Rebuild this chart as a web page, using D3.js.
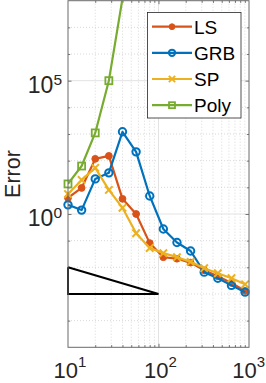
<!DOCTYPE html>
<html><head><meta charset="utf-8">
<script src="https://cdn.jsdelivr.net/npm/d3@7"></script>
<style>body{margin:0;background:#fff}svg{display:block;font-family:"Liberation Sans",Arial,Helvetica,sans-serif}</style>
</head><body><svg id="c" width="266" height="383"></svg>
<script>
// ---- data ----
const nValues   = [10, 14.14, 20, 28.28, 40, 56.57, 80, 113.1, 160, 226.3, 320, 452.5, 640, 905.1];
const lsValues  = [4.0, 9.5, 117, 151, 3.7, 1.0, 0.081, 0.024, 0.021, 0.015, 0.0077, 0.0046, 0.0026, 0.0013];
const grbValues = [2.2, 1.4, 20.7, 35, 1210, 214, 4.75, 0.273, 0.085, 0.041, 0.0066, 0.0039, 0.0021, 0.00117];
const spValues  = [5.6, 19, 54, 8, 1.7, 0.19, 0.053, 0.034, 0.024, 0.016, 0.0093, 0.006, 0.0039, 0.0023];
const polyValues = [13.4, 63, 1100, 1e5, 1.2e8];
const seriesNames = ["LS", "GRB", "SP", "Poly"];
const xTickValues = [10, 100, 1000];
const xTickExps = ["1", "2", "3"];
const yTickValues = [1, 1e5];
const yTickExps = ["0", "5"];
const yLabel = "Error";
const triangleX = [10, 10, 100, 10];
const triangleY = [1e-2, 1e-3, 1e-3, 1e-2];

// ---- layout / style ----
const colors = ["#D95319", "#0072BD", "#EDB120", "#77AC30"];
const markers = ["dot", "circle", "x", "square"];
const L = 68, R = 249, T = 0.7, B = 347.3;
const W = 266;
const svg = d3.select("#c");
const x = d3.scaleLog().domain([10, 1000]).range([L, R]);
const y = d3.scaleLog().domain([1e-5, 1e8]).range([B, T]);

svg.append("rect").attr("width", 266).attr("height", 383).attr("fill", "#fff");

// grid
const xMinor = [], xMajor = [100];
for (const d of [10, 100]) for (let k = 2; k <= 9; k++) xMinor.push(d * k);
const yMinor = [], yMajor = [1, 1e5];
for (let e = -4; e <= 7; e++) if (e !== 0 && e !== 5) yMinor.push(Math.pow(10, e));
const grid = svg.append("g");
grid.selectAll(".xm").data(xMinor).enter().append("line")
  .attr("x1", d => x(d)).attr("x2", d => x(d)).attr("y1", T).attr("y2", B)
  .attr("stroke", "#cfcfcf").attr("stroke-width", 0.8).attr("stroke-dasharray", "1,2");
grid.selectAll(".ym").data(yMinor).enter().append("line")
  .attr("y1", d => y(d)).attr("y2", d => y(d)).attr("x1", L).attr("x2", R)
  .attr("stroke", "#cfcfcf").attr("stroke-width", 0.8).attr("stroke-dasharray", "1,2");
grid.selectAll(".xM").data(xMajor).enter().append("line")
  .attr("x1", d => x(d)).attr("x2", d => x(d)).attr("y1", T).attr("y2", B)
  .attr("stroke", "#e3e3e3").attr("stroke-width", 1);
grid.selectAll(".yM").data(yMajor).enter().append("line")
  .attr("y1", d => y(d)).attr("y2", d => y(d)).attr("x1", L).attr("x2", R)
  .attr("stroke", "#e3e3e3").attr("stroke-width", 1);

// axes ticks (inside)
function tickAxis(axisGen, tr, vals, size) {
  const g = svg.append("g").attr("transform", tr)
    .call(axisGen.tickValues(vals).tickSize(size).tickFormat(""));
  g.select(".domain").remove();
  g.selectAll(".tick line").attr("stroke", "#555").attr("stroke-width", 0.8);
}
tickAxis(d3.axisLeft(y), `translate(${L},0)`, yMajor, -3.5);
tickAxis(d3.axisLeft(y), `translate(${L},0)`, yMinor, -2.2);
tickAxis(d3.axisRight(y), `translate(${R},0)`, yMajor, -3.5);
tickAxis(d3.axisRight(y), `translate(${R},0)`, yMinor, -2.2);
tickAxis(d3.axisBottom(x), `translate(0,${B})`, xMajor, -3.5);
tickAxis(d3.axisBottom(x), `translate(0,${B})`, xMinor, -2.2);
tickAxis(d3.axisTop(x), `translate(0,${T})`, xMajor, -3.5);
tickAxis(d3.axisTop(x), `translate(0,${T})`, xMinor, -2.2);

// tick labels
xTickValues.forEach((v, i) => {
  const t = svg.append("text").attr("y", 378)
    .attr("font-size", 22).attr("fill", "#262626");
  t.append("tspan").text("10");
  t.append("tspan").attr("font-size", 15).attr("dy", -11).text(xTickExps[i]);
  const w = t.node().getComputedTextLength();
  let left = x(v) + 2 - w / 2;
  if (left + w > W - 1) left = W - 1 - w;
  t.attr("x", left);
});
yTickValues.forEach((v, i) => {
  const t = svg.append("text").attr("x", 62).attr("y", y(v) + 12.5)
    .attr("text-anchor", "end").attr("font-size", 23).attr("fill", "#262626");
  t.append("tspan").text("10");
  t.append("tspan").attr("font-size", 15.5).attr("dy", -8.5).text(yTickExps[i]);
});
svg.append("text").attr("transform", "translate(20,174) rotate(-90)")
  .attr("text-anchor", "middle").attr("font-size", 21.5).attr("fill", "#262626").text(yLabel);

// clip
svg.append("clipPath").attr("id", "clip").append("rect")
  .attr("x", L).attr("y", T).attr("width", R - L).attr("height", B - T);

// triangle
svg.append("path")
  .datum(triangleX.map((v, i) => [v, triangleY[i]]))
  .attr("d", d3.line().x(d => x(d[0])).y(d => y(d[1])))
  .attr("fill", "none").attr("stroke", "#000").attr("stroke-width", 2);

function drawMarker(g, type, cx, cy, color, s) {
  if (type === "dot") {
    g.append("circle").attr("cx", cx).attr("cy", cy).attr("r", 3.4 * s)
      .attr("fill", color).attr("stroke", color).attr("stroke-width", 1);
  } else if (type === "circle") {
    g.append("circle").attr("cx", cx).attr("cy", cy).attr("r", 3.7 * s)
      .attr("fill", "none").attr("stroke", color).attr("stroke-width", 2);
  } else if (type === "x") {
    const a = 3.7 * s;
    g.append("path").attr("d", `M${cx - a},${cy - a}L${cx + a},${cy + a}M${cx - a},${cy + a}L${cx + a},${cy - a}`)
      .attr("stroke", color).attr("stroke-width", 2).attr("fill", "none");
  } else {
    const a = 3.5 * s;
    g.append("rect").attr("x", cx - a).attr("y", cy - a).attr("width", 2 * a).attr("height", 2 * a)
      .attr("fill", "none").attr("stroke", color).attr("stroke-width", 1.8);
  }
}

const allSeries = [lsValues, grbValues, spValues, polyValues];
const [yMin, yMax] = y.domain();
allSeries.forEach((vals, si) => {
  const pts = vals.map((v, i) => [nValues[i], v]);
  const g = svg.append("g");
  g.append("path").datum(pts).attr("clip-path", "url(#clip)")
    .attr("d", d3.line().x(d => x(d[0])).y(d => y(d[1])))
    .attr("fill", "none").attr("stroke", colors[si]).attr("stroke-width", 2.2)
    .attr("stroke-linejoin", "round");
  pts.filter(p => p[1] >= yMin && p[1] <= yMax)
    .forEach(p => drawMarker(g, markers[si], x(p[0]), y(p[1]), colors[si], 1));
});

// box
svg.append("rect").attr("x", L).attr("y", T).attr("width", R - L).attr("height", B - T)
  .attr("fill", "none").attr("stroke", "#6a6a6a").attr("stroke-width", 1);

// legend
const lg = svg.append("g");
lg.append("rect").attr("x", 147.5).attr("y", 12.5).attr("width", 93.5).attr("height", 105.5)
  .attr("fill", "#fff").attr("stroke", "#262626").attr("stroke-width", 0.8);
const legendY = [26.7, 52.8, 79, 105.2];
seriesNames.forEach((name, i) => {
  const ly = legendY[i];
  lg.append("line").attr("x1", 152).attr("x2", 192).attr("y1", ly).attr("y2", ly)
    .attr("stroke", colors[i]).attr("stroke-width", 2.2);
  drawMarker(lg, markers[i], 172, ly, colors[i], 0.85);
  lg.append("text").attr("x", 194).attr("y", ly + 7).attr("font-size", 19)
    .attr("fill", "#000").text(name);
});
</script></body></html>
